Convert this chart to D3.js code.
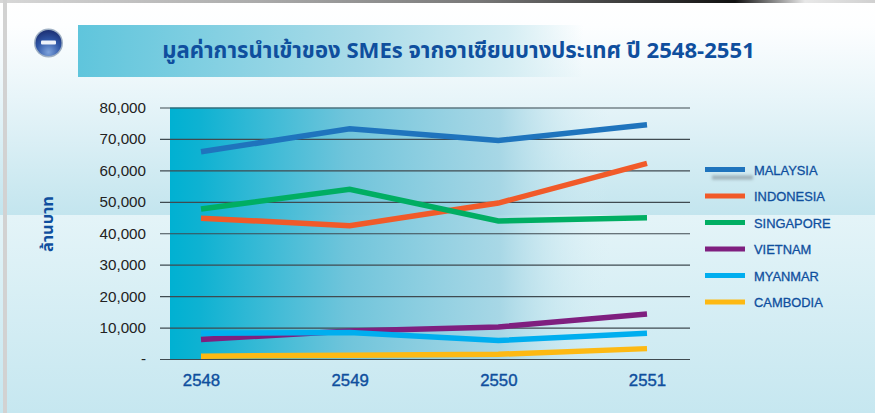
<!DOCTYPE html>
<html><head><meta charset="utf-8">
<script src="https://cdn.jsdelivr.net/npm/d3@7/dist/d3.min.js"></script>
<style>html,body{margin:0;padding:0;background:#fff;overflow:hidden}svg{display:block}</style>
</head><body><svg id="c" width="875" height="413"></svg>
<script>
const years=["2548","2549","2550","2551"];
const yTicks=[0,10000,20000,30000,40000,50000,60000,70000,80000];
const seriesNames=["MALAYSIA","INDONESIA","SINGAPORE","VIETNAM","MYANMAR","CAMBODIA"];
const seriesColors=["#1f74bd","#f15a29","#00ae63","#7f1f7f","#00aeef","#fdb913"];
const malaysia=[65900,73200,69500,74500];
const indonesia=[44800,42400,49600,62200];
const singapore=[47700,54000,43900,44900];
const vietnam=[6200,8900,10200,14300];
const myanmar=[8200,8400,5900,8200];
const cambodia=[900,1200,1500,3300];
const allSeries=[malaysia,indonesia,singapore,vietnam,myanmar,cambodia];
const titleText="มูลค่าการนำเข้าของ SMEs จากอาเซียนบางประเทศ ปี 2548-2551";
const yLabel="ล้านบาท";
const BLUE="#0f4f9e";
const FONT="'Liberation Sans',Arial,sans-serif";

const svg=d3.select("#c"),defs=svg.append("defs");
function grad(id,x2,y2,stops){
  const g=defs.append("linearGradient").attr("id",id).attr("x1",0).attr("y1",0).attr("x2",x2).attr("y2",y2);
  stops.forEach(s=>g.append("stop").attr("offset",s[0]).attr("stop-color",s[1]).attr("stop-opacity",s[2]===undefined?1:s[2]));
}
grad("bgTop",0,1,[[0,"#ffffff"],[0.12,"#fdfeff"],[0.45,"#e8f5f9"],[1,"#c3e5ee"]]);
grad("bgBot",0,1,[[0,"#e4f4f8"],[1,"#c6e7f0"]]);
grad("band",1,0,[[0,"#5fc5dc"],[0.55,"#a9dbe8"],[0.85,"#d4edf3"],[1,"#d4edf3",0]]);
grad("plot",1,0,[[0,"#00b1d2"],[0.07,"#0fb2d2"],[0.4,"#6cc3da",0.97],[0.75,"#9fd3e3",0.85],[1,"#d8eff5",0]]);
grad("top",1,0,[[0,"#d8d8d8"],[0.3,"#aaaaaa"],[0.55,"#777777"],[0.84,"#111111"],[0.92,"#e8e8e8"],[1,"#d0d0d0"]]);
const rg=defs.append("radialGradient").attr("id","ball").attr("cx",0.5).attr("cy",0.85).attr("r",0.85);
rg.append("stop").attr("offset",0).attr("stop-color","#7ea3dc");
rg.append("stop").attr("offset",0.55).attr("stop-color","#2f56a6");
rg.append("stop").attr("offset",1).attr("stop-color","#1c2f72");
const blur=defs.append("filter").attr("id","sh").attr("x","-20%").attr("y","-200%").attr("width","140%").attr("height","500%");
blur.append("feGaussianBlur").attr("stdDeviation",1.5);

// page background
svg.append("rect").attr("width",875).attr("height",215).attr("fill","url(#bgTop)");
svg.append("rect").attr("y",215).attr("width",875).attr("height",198).attr("fill","url(#bgBot)");
svg.append("rect").attr("width",875).attr("height",3).attr("fill","url(#top)");
svg.append("rect").attr("x",3).attr("width",4).attr("height",413).attr("fill","#d2d2d2");

// heading
svg.append("rect").attr("x",78).attr("y",25).attr("width",505).attr("height",52).attr("fill","url(#band)");
svg.append("circle").attr("cx",48.5).attr("cy",43).attr("r",14.5).attr("fill","#9fb0c4");
svg.append("circle").attr("cx",48.5).attr("cy",43).attr("r",13).attr("fill","url(#ball)");
svg.append("rect").attr("x",41).attr("y",40.5).attr("width",15).attr("height",4).attr("rx",1).attr("fill","#eef2fa");
svg.append("text").attr("x",458.5).attr("y",58).attr("text-anchor","middle")
  .attr("font-family","'Noto Sans Thai','Noto Sans',"+FONT).attr("font-weight",700).attr("font-size",22.1).attr("fill",BLUE).text(titleText);

// scales
const x=d3.scalePoint().domain(years).range([201,647]);
const y=d3.scaleLinear().domain([0,80000]).range([359,107.5]);

// plot panel
svg.append("rect").attr("x",170).attr("y",y(80000)).attr("width",440).attr("height",y(0)-y(80000)).attr("fill","url(#plot)");

// grid lines & y axis
const yAxis=d3.axisLeft(y).tickValues(yTicks).tickSize(0).tickPadding(14)
  .tickFormat(d=>d===0?"-":d3.format(",")(d));
const gy=svg.append("g").attr("transform","translate(160,0)").call(yAxis);
gy.select(".domain").remove();
gy.selectAll("text").attr("font-family",FONT).attr("font-size",15.2).attr("fill","#222");
gy.selectAll("line").attr("x1",0).attr("x2",530).attr("stroke","#3f4a50").attr("stroke-width",1.2);

// x axis
const xAxis=d3.axisBottom(x).tickSize(0).tickPadding(0);
const gx=svg.append("g").attr("transform","translate(0,386)").call(xAxis);
gx.select(".domain").remove();
gx.selectAll("text").attr("dy",0).attr("font-family",FONT).attr("font-weight",400).attr("font-size",16.8).attr("fill",BLUE).attr("stroke",BLUE).attr("stroke-width",0.4);

// y title
svg.append("text").attr("transform","translate(53,224) rotate(-90)").attr("text-anchor","middle")
  .attr("font-family","'Noto Sans Thai','Noto Sans',"+FONT).attr("font-weight",700).attr("font-size",16.5).attr("fill",BLUE).text(yLabel);

// series
const line=d3.line().x((d,i)=>x(years[i])).y(d=>y(d)).curve(d3.curveLinear);
[0,1,2,3,4,5].forEach(i=>{
  svg.append("path").datum(allSeries[i]).attr("d",line).attr("fill","none")
    .attr("stroke",seriesColors[i]).attr("stroke-width",5.5).attr("stroke-linejoin","miter");
});

// legend
const legendY=d3.scalePoint().domain(seriesNames).range([169.5,302]);
svg.append("rect").attr("x",712).attr("y",legendY(seriesNames[0])+6).attr("width",41).attr("height",4).attr("fill","#8a9aa2").attr("opacity",0.75).attr("filter","url(#sh)");
const leg=svg.append("g").selectAll("g").data(seriesNames).join("g").attr("transform",d=>`translate(0,${legendY(d)})`);
leg.append("rect").attr("x",705).attr("y",-2.5).attr("width",40).attr("height",5).attr("fill",(d,i)=>seriesColors[i]);
leg.append("text").attr("x",754).attr("y",5).text(d=>d).attr("font-family",FONT).attr("font-size",12.9).attr("fill",BLUE).attr("stroke",BLUE).attr("stroke-width",0.3);
</script></body></html>
